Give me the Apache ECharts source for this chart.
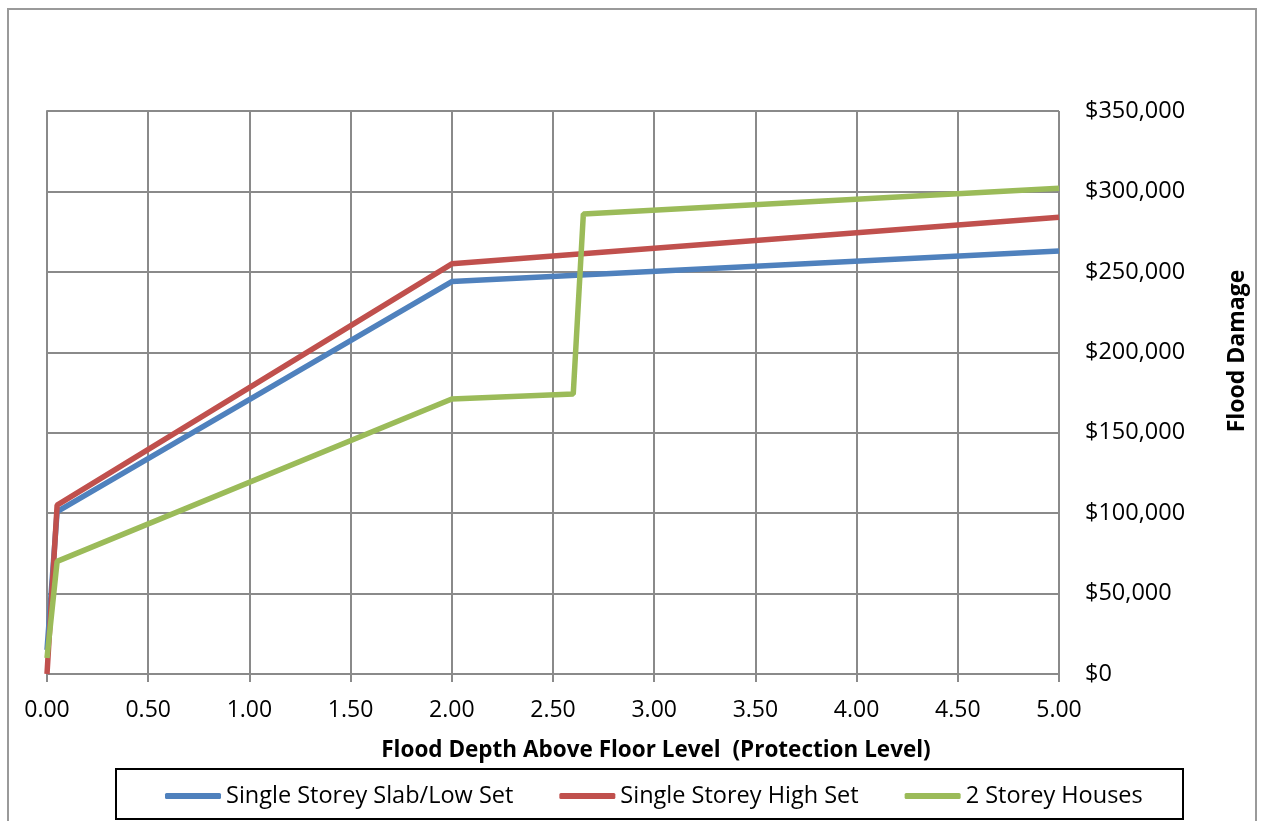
<!DOCTYPE html>
<html>
<head>
<meta charset="utf-8">
<script src="https://cdn.jsdelivr.net/npm/echarts@6/dist/echarts.min.js"></script>
<style>
html,body{margin:0;padding:0;background:#fff;}
#chart{width:1261px;height:821px;}
</style>
</head>
<body>
<div id="chart"></div>
<script>
// Data (flood depth in m, damage in $)
var seriesNames = ['Single Storey Slab/Low Set', 'Single Storey High Set', '2 Storey Houses'];
var slabLowSet = [[0, 15000], [0.05, 101000], [2.0, 244000], [5.0, 263000]];
var highSet = [[0, 0], [0.05, 105000], [2.0, 255000], [5.0, 284000]];
var twoStorey = [[0, 10000], [0.05, 70000], [2.0, 171000], [2.6, 174000], [2.65, 286000], [5.0, 302000]];
var xTicks = { min: 0, max: 5, interval: 0.5 };
var yTicks = { min: 0, max: 350000, interval: 50000 };
var xAxisTitle = 'Flood Depth Above Floor Level  (Protection Level)';
var yAxisTitle = 'Flood Damage';

var colors = ['#4F81BD', '#C0504D', '#9BBB59'];
var FONT = '"Open Sans", "Noto Sans", sans-serif';
var gridColor = '#8a8a8a';

function fmtMoney(v) {
  return '$' + v.toFixed(0).replace(/\B(?=(\d{3})+(?!\d))/g, ',');
}

var chart = echarts.init(document.getElementById('chart'), null, { renderer: 'canvas' });
var datasets = [slabLowSet, highSet, twoStorey];

chart.setOption({
  animation: false,
  backgroundColor: '#ffffff',
  color: colors,
  grid: { left: 47, right: 202, top: 111, bottom: 147, containLabel: false },
  xAxis: {
    type: 'value',
    min: xTicks.min, max: xTicks.max, interval: xTicks.interval,
    axisLine: { show: true, onZero: false, lineStyle: { color: gridColor, width: 2 } },
    axisTick: { show: true, inside: false, length: 8, lineStyle: { color: gridColor, width: 2 } },
    splitLine: { show: true, lineStyle: { color: gridColor, width: 2 } },
    axisLabel: {
      margin: 25, color: '#000', fontFamily: FONT, fontSize: 23,
      formatter: function (v) { return v.toFixed(2); }
    }
  },
  yAxis: {
    type: 'value', position: 'right',
    min: yTicks.min, max: yTicks.max, interval: yTicks.interval,
    axisLine: { show: true, lineStyle: { color: gridColor, width: 2 } },
    axisTick: { show: true, inside: false, length: 8, lineStyle: { color: gridColor, width: 2 } },
    splitLine: { show: true, lineStyle: { color: gridColor, width: 2 } },
    axisLabel: {
      margin: 26, color: '#000', fontFamily: FONT, fontSize: 23.5,
      formatter: fmtMoney
    }
  },
  legend: {
    top: 779, left: 160,
    itemWidth: 56, itemHeight: 6, itemGap: 46,
    icon: 'roundRect',
    textStyle: { color: '#000', fontFamily: FONT, fontSize: 23.5 },
    data: seriesNames
  },
  graphic: [
    { type: 'rect', silent: true, z: -1,
      shape: { x: 8, y: 9, width: 1248, height: 830 },
      style: { fill: null, stroke: '#9a9a9a', lineWidth: 2 } },
    { type: 'rect', silent: true,
      shape: { x: 116, y: 769, width: 1067, height: 50 },
      style: { fill: null, stroke: '#000', lineWidth: 2 } },
    { type: 'text', silent: true, x: 656, y: 751,
      style: { text: xAxisTitle, font: 'bold 22.5px ' + FONT, fill: '#000', align: 'center', verticalAlign: 'middle' } },
    { type: 'text', silent: true, rotation: Math.PI / 2,
      x: 1237, y: 351,
      style: { text: yAxisTitle, font: 'bold 23px ' + FONT, fill: '#000', align: 'center', verticalAlign: 'middle' } }
  ],
  series: seriesNames.map(function (name, i) {
    return {
      name: name, type: 'line', data: datasets[i],
      symbol: 'none', smooth: false,
      lineStyle: { width: 5.5, color: colors[i] },
      itemStyle: { color: colors[i] }
    };
  })
});
</script>
</body>
</html>
